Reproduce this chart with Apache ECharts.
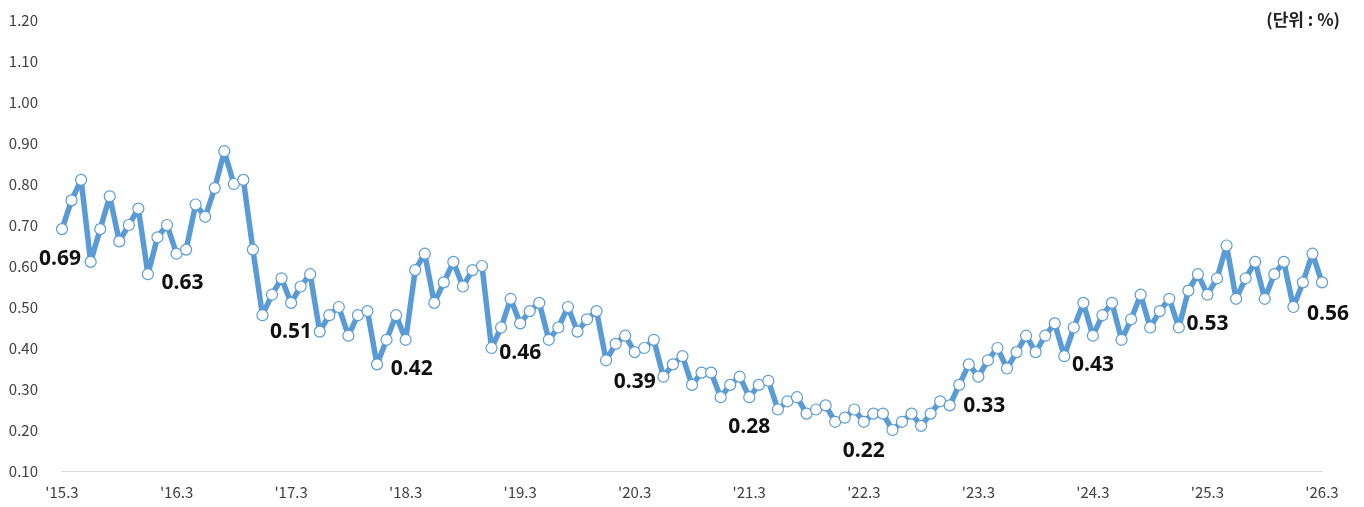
<!DOCTYPE html>
<html>
<head>
<meta charset="utf-8">
<script src="https://cdn.jsdelivr.net/npm/echarts@6/dist/echarts.min.js"></script>
<style>
  html, body { margin: 0; padding: 0; background: #ffffff; }
  #chart { width: 1364px; height: 507px; }
</style>
</head>
<body>
<div id="chart"></div>
<script>
// Monthly series, March 2015 through March 2026 (%)
const rates2015 = [0.69, 0.76, 0.81, 0.61, 0.69, 0.77, 0.66, 0.70, 0.74, 0.58, 0.67, 0.70];
const rates2016 = [0.63, 0.64, 0.75, 0.72, 0.79, 0.88, 0.80, 0.81, 0.64, 0.48, 0.53, 0.57];
const rates2017 = [0.51, 0.55, 0.58, 0.44, 0.48, 0.50, 0.43, 0.48, 0.49, 0.36, 0.42, 0.48];
const rates2018 = [0.42, 0.59, 0.63, 0.51, 0.56, 0.61, 0.55, 0.59, 0.60, 0.40, 0.45, 0.52];
const rates2019 = [0.46, 0.49, 0.51, 0.42, 0.45, 0.50, 0.44, 0.47, 0.49, 0.37, 0.41, 0.43];
const rates2020 = [0.39, 0.40, 0.42, 0.33, 0.36, 0.38, 0.31, 0.34, 0.34, 0.28, 0.31, 0.33];
const rates2021 = [0.28, 0.31, 0.32, 0.25, 0.27, 0.28, 0.24, 0.25, 0.26, 0.22, 0.23, 0.25];
const rates2022 = [0.22, 0.24, 0.24, 0.20, 0.22, 0.24, 0.21, 0.24, 0.27, 0.26, 0.31, 0.36];
const rates2023 = [0.33, 0.37, 0.40, 0.35, 0.39, 0.43, 0.39, 0.43, 0.46, 0.38, 0.45, 0.51];
const rates2024 = [0.43, 0.48, 0.51, 0.42, 0.47, 0.53, 0.45, 0.49, 0.52, 0.45, 0.54, 0.58];
const rates2025 = [0.53, 0.57, 0.65, 0.52, 0.57, 0.61, 0.52, 0.58, 0.61, 0.50, 0.56, 0.63];
const rates2026 = [0.56];

const rates = [].concat(rates2015, rates2016, rates2017, rates2018, rates2019, rates2020,
  rates2021, rates2022, rates2023, rates2024, rates2025, rates2026);

// Category labels: 'YY.M, one per month
const categories = [];
for (let i = 0; i < rates.length; i++) {
  const m = (3 + i - 1) % 12 + 1;
  const y = 15 + Math.floor((3 + i - 1) / 12);
  categories.push("'" + y + '.' + m);
}

// Y-axis range and step
const yMin = 0.1, yMax = 1.2, yStep = 0.1;

// Each March is annotated with its value
const annotateEvery = 12;
const annotationOffsets = { 0: [-2, 0], 12: [6, 0], 34: [0, 0], 36: [6, 0], 96: [6, 0], 132: [6, 2] };

const seriesData = rates.map(function (v, i) {
  if (i % annotateEvery !== 0) return v;
  return {
    value: v,
    label: {
      show: true,
      position: 'bottom',
      distance: 13,
      offset: annotationOffsets[i] || [0, 0],
      formatter: function (p) { return p.value.toFixed(2); },
      color: '#111111',
      fontFamily: '"Open Sans", "Noto Sans", sans-serif',
      fontWeight: 'bold',
      fontSize: 21
    }
  };
});

const chart = echarts.init(document.getElementById('chart'), null, { renderer: 'canvas' });
chart.setOption({
  animation: false,
  backgroundColor: '#ffffff',
  grid: { left: 62, right: 42, top: 20, bottom: 36, containLabel: false },
  xAxis: {
    type: 'category',
    data: categories,
    boundaryGap: false,
    axisLine: { lineStyle: { color: '#d9d9d9', width: 1 } },
    axisTick: { show: false },
    axisLabel: {
      interval: function (idx) { return idx % 12 === 0; },
      color: '#404040',
      fontFamily: '"Noto Sans CJK KR", "Noto Sans", sans-serif',
      fontSize: 15,
      margin: 14
    },
    splitLine: { show: false }
  },
  yAxis: {
    type: 'value',
    min: yMin,
    max: yMax,
    interval: yStep,
    axisLine: { show: false },
    axisTick: { show: false },
    splitLine: { show: false },
    axisLabel: {
      color: '#404040',
      fontFamily: '"Noto Sans CJK KR", "Noto Sans", sans-serif',
      fontSize: 15,
      margin: 24,
      formatter: function (v) { return v.toFixed(2); }
    }
  },
  series: [{
    type: 'line',
    data: seriesData,
    symbol: 'circle',
    symbolSize: 11,
    showAllSymbol: true,
    lineStyle: { color: '#5b9bd5', width: 5.5 },
    itemStyle: { color: '#ffffff', borderColor: '#5b9bd5', borderWidth: 1.2 },
    z: 2
  }],
  graphic: [{
    type: 'text',
    right: 24,
    top: 11,
    style: {
      text: '(단위 : %)',
      fill: '#222222',
      font: 'bold 17px "Noto Sans CJK KR", sans-serif'
    }
  }]
});
</script>
</body>
</html>
